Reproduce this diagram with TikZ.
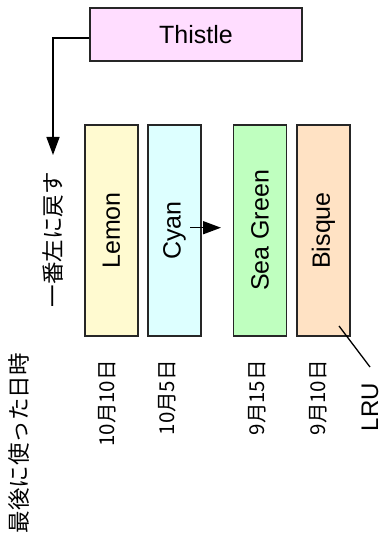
\documentclass[tikz,border=0pt]{standalone}
\usepackage{fontspec}
\setmainfont{Liberation Sans}
\newfontfamily\jp{Noto Sans CJK JP}
\usetikzlibrary{arrows.meta}
\definecolor{thistlec}{HTML}{FFDDFF}
\definecolor{lemonc}{HTML}{FFFAD0}
\definecolor{cyanc}{HTML}{DDFFFF}
\definecolor{seac}{HTML}{BFFFBF}
\definecolor{bisquec}{HTML}{FFE2C4}
\tikzset{
  box/.style={draw=black!85, line width=1.4pt, rotate=90, minimum width=211pt, minimum height=53pt, inner sep=0pt, font=\fontsize{25}{30}\selectfont},
  hbox/.style={draw=black!85, line width=1.4pt, minimum width=212pt, minimum height=53pt, inner sep=0pt, font=\fontsize{25}{30}\selectfont},
  jptext/.style={rotate=90, inner sep=0pt, font=\jp\fontsize{22.5}{26}\selectfont},
  datetext/.style={rotate=90, inner sep=0pt, font=\jp\fontsize{20.5}{24}\selectfont},
  lat/.style={rotate=90, inner sep=0pt, font=\fontsize{24}{28}\selectfont},
  arr/.style={line width=1.5pt, -{Triangle[length=18pt,width=13pt]}},
}
\begin{document}
\begin{tikzpicture}[x=1pt,y=1pt]
\useasboundingbox (0,0) rectangle (383,533);
\node[hbox, fill=thistlec] (thistle) at (196,498.5) {Thistle};
\node[box, fill=lemonc] (lemon) at (111.5,302.5) {Lemon};
\node[box, fill=cyanc] (cyan) at (174.5,302.5) {Cyan};
\node[box, fill=seac] (sea) at (260,302.5) {Sea Green};
\node[box, fill=bisquec] (bisque) at (323.5,302.5) {Bisque};
\node[jptext] (back) at (53,293) {一番左に戻す};
\coordinate (backtip) at (53,378);
\draw[arr] (thistle.west |- 0,495) -| (backtip);
\coordinate (cyanstart) at (190,305.3);
\coordinate (seaend) at (221,305.3);
\draw[arr] (cyanstart) -- (seaend);
\node[lat, anchor=east] (lru) at (370,150) {LRU};
\coordinate (lrustart) at (339,207);
\coordinate (lruend) at (370,166);
\draw[line width=1.3pt] (lrustart) -- (lruend);
\node[datetext, anchor=east] (d1) at (107,173) {10月10日};
\node[datetext, anchor=east] (d2) at (167,173) {10月5日};
\node[datetext, anchor=east] (d3) at (257,173) {9月15日};
\node[datetext, anchor=east] (d4) at (318,173) {9月10日};
\node[jptext, anchor=east] (last) at (19,180) {最後に使った日時};
\end{tikzpicture}
\end{document}
